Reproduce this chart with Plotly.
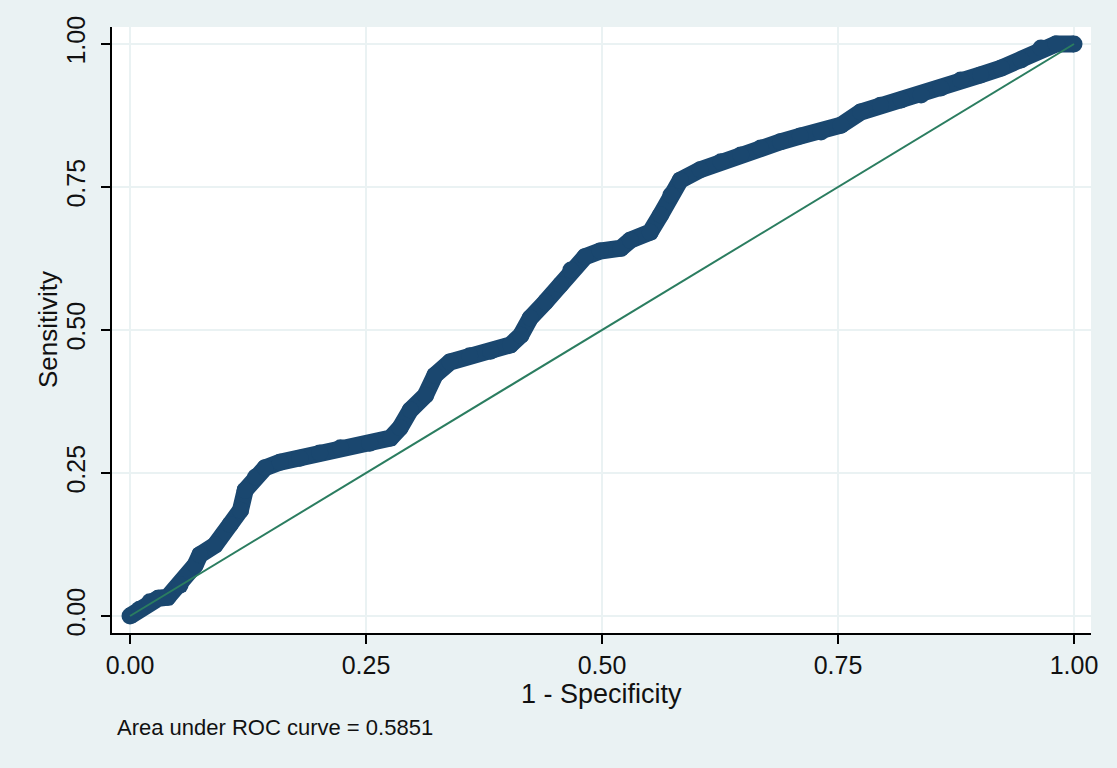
import plotly.graph_objects as go

# ROC curve points (1 - specificity, sensitivity)
fpr = [0.0, 0.010, 0.021, 0.030, 0.040, 0.053, 0.069, 0.074, 0.090, 0.106, 0.117, 0.122,
       0.133, 0.143, 0.159, 0.180, 0.201, 0.223, 0.254, 0.276, 0.286, 0.297, 0.313, 0.323,
       0.339, 0.360, 0.382, 0.403, 0.414, 0.424, 0.440, 0.456, 0.467, 0.482, 0.498, 0.520,
       0.530, 0.551, 0.562, 0.573, 0.583, 0.604, 0.626, 0.647, 0.668, 0.689, 0.710, 0.732,
       0.753, 0.774, 0.795, 0.817, 0.838, 0.859, 0.880, 0.901, 0.923, 0.944, 0.965, 0.981, 1.0]
tpr = [0.0, 0.012, 0.025, 0.031, 0.033, 0.054, 0.089, 0.107, 0.124, 0.160, 0.185, 0.220,
       0.243, 0.259, 0.269, 0.276, 0.285, 0.294, 0.302, 0.311, 0.329, 0.360, 0.386, 0.421,
       0.444, 0.455, 0.463, 0.474, 0.491, 0.521, 0.549, 0.579, 0.605, 0.628, 0.638, 0.643,
       0.657, 0.671, 0.701, 0.736, 0.762, 0.780, 0.794, 0.806, 0.818, 0.829, 0.839, 0.846,
       0.858, 0.881, 0.893, 0.902, 0.911, 0.923, 0.937, 0.946, 0.958, 0.972, 0.993, 1.0, 1.0]

ref_x = [0.0, 1.0]
ref_y = [0.0, 1.0]

tick_vals = [0.0, 0.25, 0.5, 0.75, 1.0]
tick_text = ["0.00", "0.25", "0.50", "0.75", "1.00"]

x_title = "1 - Specificity"
y_title = "Sensitivity"
note = "Area under ROC curve = 0.5851"

NAVY = "#1a476f"
GREEN = "#2b7d60"
BG = "#eaf2f3"
FONT = "Liberation Sans, Arial, sans-serif"

W, H = 1117, 768
ML, MR, MT, MB = 112, 26, 27, 135
PW, PH = W - ML - MR, H - MT - MB

fig = go.Figure()
fig.add_trace(go.Scatter(
    x=fpr, y=tpr, mode="lines+markers",
    line=dict(color=NAVY, width=17),
    marker=dict(color=NAVY, size=17),
    hoverinfo="skip", showlegend=False,
))
fig.add_trace(go.Scatter(
    x=ref_x, y=ref_y, mode="lines",
    line=dict(color=GREEN, width=2),
    hoverinfo="skip", showlegend=False,
))

axis_common = dict(
    showline=True, linecolor="black", linewidth=1.5,
    ticks="outside", ticklen=9, tickwidth=1.5, tickcolor="black",
    showgrid=True, gridcolor=BG, gridwidth=2,
    zeroline=False, mirror=False,
    tickvals=tick_vals, ticktext=tick_text,
    tickfont=dict(family=FONT, size=25, color="#111111"),
)

fig.update_layout(
    width=W, height=H,
    margin=dict(l=ML, r=MR, t=MT, b=MB),
    paper_bgcolor=BG, plot_bgcolor="white",
    font=dict(family=FONT, color="#111111"),
    xaxis=dict(range=[-0.0191, 1.018], **axis_common),
    yaxis=dict(range=[-0.0297, 1.0297], tickangle=-90, ticklabelstandoff=6, **axis_common),
    annotations=[
        dict(text=x_title, xref="paper", yref="paper",
             x=(601 - ML) / PW, y=-(694 - (H - MB)) / PH,
             xanchor="center", yanchor="middle", showarrow=False,
             font=dict(family=FONT, size=27, color="#111111")),
        dict(text=y_title, xref="paper", yref="paper", textangle=-90,
             x=-(ML - 48) / PW, y=0.5,
             xanchor="center", yanchor="middle", showarrow=False,
             font=dict(family=FONT, size=26, color="#111111")),
        dict(text=note, xref="paper", yref="paper",
             x=(115 - ML) / PW, y=-(727 - (H - MB)) / PH,
             xanchor="left", yanchor="middle", showarrow=False,
             font=dict(family=FONT, size=22, color="#111111")),
    ],
)

fig.write_html(
    "out.html",
    config={"displayModeBar": False},
    post_script="document.body.style.margin='0';document.body.style.background='#eaf2f3';",
)
